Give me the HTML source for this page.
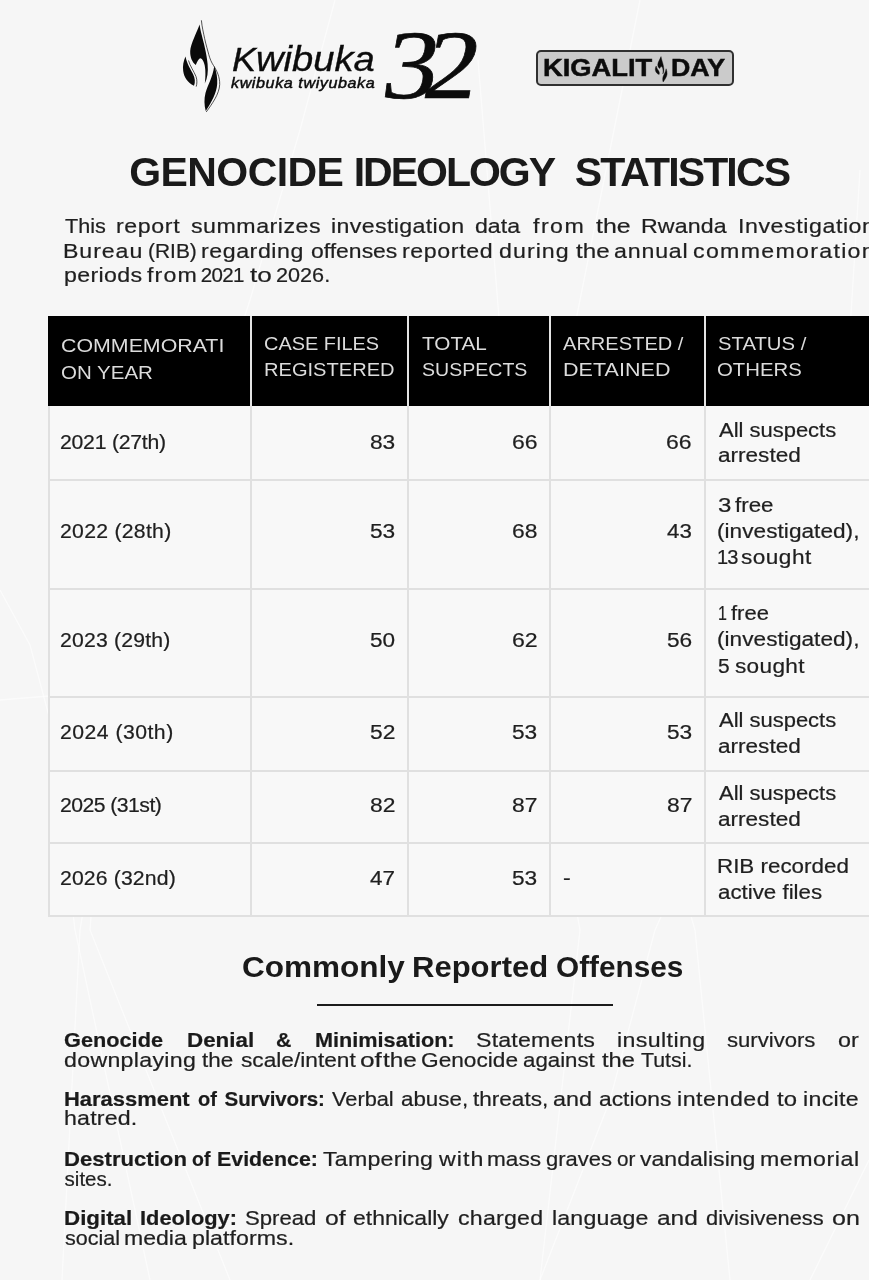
<!DOCTYPE html>
<html lang="en"><head><meta charset="utf-8"><title>Genocide Ideology Statistics</title>
<style>
html,body{margin:0;padding:0}
body{width:869px;height:1280px;overflow:hidden;position:relative;background:#f6f6f6;font-family:"Liberation Sans",sans-serif;color:#1f1f1f}
p .t,td .t{-webkit-text-stroke:0.22px #1f1f1f}
.t{position:absolute;white-space:nowrap;line-height:1;margin:0;padding:0;display:block;transform-origin:0 0}
h1,h2,p,header,section{margin:0;padding:0;font-weight:normal}
svg{position:absolute;left:0;top:0;overflow:visible}
.badge{position:absolute;left:535.7px;top:49.9px;width:198.7px;height:35.9px;box-sizing:border-box;border:2px solid #303030;border-radius:5px;background:#cbcbcb}
table{position:absolute;left:48px;top:316px;width:832px;border-spacing:0;border-collapse:separate;table-layout:fixed}
td,th{box-sizing:border-box;padding:0;border-right:2px solid #e0e0e0;border-bottom:2px solid #e0e0e0;font-weight:normal}
td:first-child{border-left:2px solid #e0e0e0}
th{background:#000;color:#dcdcdc;height:90px;border-bottom:0;border-right:2px solid #e4e4e4}
th:first-child{border-left:2px solid #000}
th:last-child,td:last-child{border-right:0}
tbody td{background:#f8f8f8}
hr{position:absolute;left:316.6px;top:1004.3px;width:296px;height:2px;border:0;margin:0;background:#1c1c1c}
b{font-weight:bold}
</style></head><body>
<svg width="869" height="1280" viewBox="0 0 869 1280" aria-hidden="true"><g fill="none" stroke="#ffffff" stroke-opacity="0.6" stroke-width="1.3"><path d="M335 0 L300 130 L250 300 L185 500 L115 720 L80 930 L62 1280"/><path d="M478 60 L500 330 L482 480 L542 720 L580 930 L540 1280"/><path d="M640 0 L560 400 L570 480 L635 720 L695 930 L730 1280"/><path d="M860 170 L850 330 L807 480 L750 720 L655 930 L610 1100 L540 1280"/><path d="M0 590 L30 645 L50 720 L75 930 L150 1280"/><path d="M0 700 L122 690 L100 800 L90 930 L230 1280"/><path d="M869 1160 L810 1280"/></g></svg>
<header>
<svg width="869" height="130" viewBox="0 0 869 130" aria-hidden="true">
<g fill="#0a0a0a">
<path d="M199.6 24.5C197 32 190.5 44 190.2 51C190 57 192 62 195.8 65C197 62 198.5 59 200 58.3C203 58.5 205 64 205.3 70C205.6 76 205.2 80 204.8 83.5C207.5 78 208.3 72 207.6 64C206.8 54 203.5 42 201.5 34C200.5 30 200 27 199.6 24.5Z"/>
<path d="M185.5 56.5C183.5 61 182.5 66 183.2 71C184 77 187.5 82.5 194 85.8C195.5 82 195 78 193 74C190.8 69.5 187 64 185.5 56.5Z"/>
<path d="M214.3 66C216.5 72 217.6 78 217.2 84C216.6 93 211 103 205.7 111C204.2 105 204 99 205.5 93C207.5 85.5 212.5 78 214.3 66Z"/>
</g>
<g fill="none" stroke="#0a0a0a" stroke-width="0.7">
<path d="M201.4 20.3C202 27 203.5 33 204.6 38.4C206 45 207.6 50 208.8 54.7C210 59 211.5 62.5 213.5 65.5C217 71 219.9 77 219.7 84.5C219.3 94 212 104 206.2 112"/>
<path d="M188.5 60.5C190 66 194 71.5 196 76.5C197.3 80 197 84 196.2 86.6"/>
</g></svg>
<span class="t" style="left:231.80px;top:41.55px;font-size:35.5px;transform:scaleX(1.0750);font-style:italic;color:#0c0c0c;-webkit-text-stroke:0.35px #0c0c0c"><span style="font-size:0.945em">K</span>wibuka</span>
<span class="t" style="left:231.26px;top:76.30px;font-size:14.3px;letter-spacing:0.500px;transform:scaleX(1.1300);font-style:italic;color:#0c0c0c;-webkit-text-stroke:0.45px #0c0c0c">kwibuka twiyubaka</span>
<span class="t" style="left:378.60px;top:15.80px;font-size:98px;font-family:'Liberation Serif', serif;color:#0c0c0c;transform:scaleX(1.11) skewX(-9deg);transform-origin:0 85%;-webkit-text-stroke:0.7px #0c0c0c">3</span><span class="t" style="left:420.30px;top:15.80px;font-size:98px;font-family:'Liberation Serif', serif;color:#0c0c0c;transform:scaleX(1.11) skewX(-9deg);transform-origin:0 85%;-webkit-text-stroke:0.7px #0c0c0c">2</span>
<div class="badge"></div><span class="t" style="left:543.10px;top:55.79px;font-size:24.7px;transform:scaleX(1.1068);font-weight:bold;color:#0c0c0c;-webkit-text-stroke:0.5px #0c0c0c">KIGALIT</span><span class="t" style="left:670.64px;top:55.79px;font-size:24.7px;transform:scaleX(1.0834);font-weight:bold;color:#0c0c0c;-webkit-text-stroke:0.5px #0c0c0c">DAY</span>
<svg width="869" height="130" viewBox="0 0 869 130" aria-hidden="true"><g fill="#0c0c0c" stroke="#0c0c0c" stroke-width="1.2" transform="translate(655.3 55.3) scale(0.345 0.293) translate(-183 -20)">
<path d="M199.6 24.5C197 32 190.5 44 190.2 51C190 57 192 62 195.8 65C197 62 198.5 59 200 58.3C203 58.5 205 64 205.3 70C205.6 76 205.2 80 204.8 83.5C207.5 78 208.3 72 207.6 64C206.8 54 203.5 42 201.5 34C200.5 30 200 27 199.6 24.5Z"/>
<path d="M185.5 56.5C183.5 61 182.5 66 183.2 71C184 77 187.5 82.5 194 85.8C195.5 82 195 78 193 74C190.8 69.5 187 64 185.5 56.5Z"/>
<path d="M214.3 66C216.5 72 217.6 78 217.2 84C216.6 93 211 103 205.7 111C204.2 105 204 99 205.5 93C207.5 85.5 212.5 78 214.3 66Z"/>
</g></svg>
</header>
<h1><span class="t" style="left:129.32px;top:151.59px;font-size:41px;letter-spacing:-0.604px;font-weight:bold;color:#1a1a1a">GENOCIDE</span><span class="t" style="left:353.74px;top:151.59px;font-size:41px;letter-spacing:-2.015px;font-weight:bold;color:#1a1a1a">IDEOLOGY</span><span class="t" style="left:574.66px;top:151.59px;font-size:41px;letter-spacing:-1.863px;font-weight:bold;color:#1a1a1a">STATISTICS</span></h1>
<p><span class="t" style="left:64.70px;top:216.15px;font-size:20.5px;transform:scaleX(1.0549)">This</span> <span class="t" style="left:116.09px;top:216.15px;font-size:20.5px;letter-spacing:0.545px;transform:scaleX(1.1300)">report</span> <span class="t" style="left:191.13px;top:216.15px;font-size:20.5px;letter-spacing:0.464px;transform:scaleX(1.1300)">summarizes</span> <span class="t" style="left:330.79px;top:216.15px;font-size:20.5px;letter-spacing:0.323px;transform:scaleX(1.1300)">investigation</span> <span class="t" style="left:475.45px;top:216.15px;font-size:20.5px;transform:scaleX(1.1287)">data</span> <span class="t" style="left:533.02px;top:216.15px;font-size:20.5px;letter-spacing:1.284px;transform:scaleX(1.1300)">from</span> <span class="t" style="left:595.50px;top:216.15px;font-size:20.5px;transform:scaleX(1.2140)">the</span> <span class="t" style="left:641.06px;top:216.15px;font-size:20.5px;letter-spacing:0.094px;transform:scaleX(1.1300)">Rwanda</span> <span class="t" style="left:737.98px;top:216.15px;font-size:20.5px;letter-spacing:0.508px;transform:scaleX(1.1300)">Investigation</span>
<span class="t" style="left:63.26px;top:240.75px;font-size:20.5px;letter-spacing:0.811px;transform:scaleX(1.1300)">Bureau</span> <span class="t" style="left:147.92px;top:240.75px;font-size:20.5px;transform:scaleX(1.0204)">(RIB)</span> <span class="t" style="left:200.89px;top:240.75px;font-size:20.5px;letter-spacing:0.496px;transform:scaleX(1.1300)">regarding</span> <span class="t" style="left:311.06px;top:240.75px;font-size:20.5px;transform:scaleX(1.1195)">offenses</span> <span class="t" style="left:402.39px;top:240.75px;font-size:20.5px;letter-spacing:0.540px;transform:scaleX(1.1300)">reported</span> <span class="t" style="left:498.75px;top:240.75px;font-size:20.5px;letter-spacing:0.937px;transform:scaleX(1.1300)">during</span> <span class="t" style="left:575.51px;top:240.75px;font-size:20.5px;transform:scaleX(1.1775)">the</span> <span class="t" style="left:614.25px;top:240.75px;font-size:20.5px;letter-spacing:0.736px;transform:scaleX(1.1300)">annual</span> <span class="t" style="left:693.25px;top:240.75px;font-size:20.5px;letter-spacing:1.152px;transform:scaleX(1.1300)">commemoration</span>
<span class="t" style="left:63.69px;top:265.25px;font-size:20.5px;letter-spacing:0.316px;transform:scaleX(1.1300)">periods</span> <span class="t" style="left:147.12px;top:265.25px;font-size:20.5px;letter-spacing:1.048px;transform:scaleX(1.1300)">from</span> <span class="t" style="left:200.80px;top:265.25px;font-size:20.5px;letter-spacing:-0.634px">2021</span> <span class="t" style="left:249.58px;top:265.25px;font-size:20.5px;transform:scaleX(1.2756)">to</span> <span class="t" style="left:276.14px;top:265.25px;font-size:20.5px;transform:scaleX(1.0561)">2026.</span></p>
<table><colgroup><col style="width:204px"><col style="width:157px"><col style="width:142px"><col style="width:155px"><col style="width:174px"></colgroup>
<thead><tr><th><span class="t" style="left:13.32px;top:20.22px;font-size:19px;transform:scaleX(1.1242);color:#dcdcdc">COMMEMORATI</span><span class="t" style="left:13.36px;top:46.62px;font-size:19px;transform:scaleX(1.0788);color:#dcdcdc">ON YEAR</span></th><th><span class="t" style="left:215.88px;top:18.02px;font-size:19px;transform:scaleX(1.0486);color:#dcdcdc">CASE FILES</span><span class="t" style="left:215.71px;top:44.32px;font-size:19px;transform:scaleX(1.0572);color:#dcdcdc">REGISTERED</span></th><th><span class="t" style="left:373.89px;top:18.02px;font-size:19px;transform:scaleX(1.0899);color:#dcdcdc">TOTAL</span><span class="t" style="left:373.53px;top:44.32px;font-size:19px;transform:scaleX(1.0291);color:#dcdcdc">SUSPECTS</span></th><th><span class="t" style="left:515.30px;top:18.02px;font-size:19px;transform:scaleX(1.0560);color:#dcdcdc">ARRESTED /</span><span class="t" style="left:515.10px;top:44.32px;font-size:19px;letter-spacing:0.062px;transform:scaleX(1.1300);color:#dcdcdc">DETAINED</span></th><th><span class="t" style="left:669.60px;top:18.02px;font-size:19px;transform:scaleX(1.0678);color:#dcdcdc">STATUS /</span><span class="t" style="left:669.46px;top:44.32px;font-size:19px;transform:scaleX(1.0710);color:#dcdcdc">OTHERS</span></th></tr></thead>
<tbody>
<tr style="height:75px"><td><span class="t" style="left:12.44px;top:115.57px;font-size:20px;letter-spacing:-0.221px;transform:scaleX(1.0600)">2021 (27th)</span></td><td><span class="t" style="left:322.05px;top:115.57px;font-size:20px;transform:scaleX(1.1347)">83</span></td><td><span class="t" style="left:464.05px;top:115.57px;font-size:20px;transform:scaleX(1.1486)">66</span></td><td><span class="t" style="left:618.45px;top:115.57px;font-size:20px;transform:scaleX(1.1486)">66</span></td><td><span class="t" style="left:670.60px;top:103.67px;font-size:20px;transform:scaleX(1.0982)">All suspects</span> <span class="t" style="left:669.75px;top:129.47px;font-size:20px;transform:scaleX(1.1279)">arrested</span></td></tr>
<tr style="height:109px"><td><span class="t" style="left:12.44px;top:205.37px;font-size:20px;letter-spacing:0.260px;transform:scaleX(1.0600)">2022 (28th)</span></td><td><span class="t" style="left:322.05px;top:205.37px;font-size:20px;transform:scaleX(1.1347)">53</span></td><td><span class="t" style="left:464.06px;top:205.37px;font-size:20px;transform:scaleX(1.1416)">68</span></td><td><span class="t" style="left:619.18px;top:205.37px;font-size:20px;transform:scaleX(1.1144)">43</span></td><td><span class="t" style="left:669.70px;top:178.57px;font-size:20px;transform:scaleX(1.2000)">3</span> <span class="t" style="left:686.82px;top:178.57px;font-size:20px;transform:scaleX(1.1158)">free</span> <span class="t" style="left:669.33px;top:204.97px;font-size:20px;letter-spacing:0.033px;transform:scaleX(1.1300)">(investigated),</span> <span class="t" style="left:669.10px;top:231.27px;font-size:20px;letter-spacing:-1.073px">13</span> <span class="t" style="left:692.83px;top:231.27px;font-size:20px;letter-spacing:0.420px;transform:scaleX(1.1300)">sought</span></td></tr>
<tr style="height:108px"><td><span class="t" style="left:12.44px;top:313.77px;font-size:20px;letter-spacing:0.185px;transform:scaleX(1.0600)">2023 (29th)</span></td><td><span class="t" style="left:322.05px;top:313.77px;font-size:20px;transform:scaleX(1.1278)">50</span></td><td><span class="t" style="left:464.04px;top:313.77px;font-size:20px;transform:scaleX(1.1557)">62</span></td><td><span class="t" style="left:618.75px;top:313.77px;font-size:20px;transform:scaleX(1.1347)">56</span></td><td><span class="t" style="left:669.80px;top:287.07px;font-size:20px;transform:scaleX(0.8000)">1</span> <span class="t" style="left:683.02px;top:287.07px;font-size:20px;transform:scaleX(1.1008)">free</span> <span class="t" style="left:669.33px;top:313.47px;font-size:20px;letter-spacing:0.033px;transform:scaleX(1.1300)">(investigated),</span> <span class="t" style="left:669.81px;top:339.87px;font-size:20px;transform:scaleX(1.0494)">5</span> <span class="t" style="left:686.53px;top:339.87px;font-size:20px;letter-spacing:0.279px;transform:scaleX(1.1300)">sought</span></td></tr>
<tr style="height:74px"><td><span class="t" style="left:12.44px;top:406.07px;font-size:20px;letter-spacing:0.449px;transform:scaleX(1.0600)">2024 (30th)</span></td><td><span class="t" style="left:322.04px;top:406.07px;font-size:20px;transform:scaleX(1.1416)">52</span></td><td><span class="t" style="left:464.35px;top:406.07px;font-size:20px;transform:scaleX(1.1347)">53</span></td><td><span class="t" style="left:618.75px;top:406.07px;font-size:20px;transform:scaleX(1.1347)">53</span></td><td><span class="t" style="left:670.60px;top:393.87px;font-size:20px;transform:scaleX(1.0982)">All suspects</span> <span class="t" style="left:669.75px;top:419.87px;font-size:20px;transform:scaleX(1.1279)">arrested</span></td></tr>
<tr style="height:72px"><td><span class="t" style="left:12.44px;top:479.07px;font-size:20px;letter-spacing:-0.514px;transform:scaleX(1.0600)">2025 (31st)</span></td><td><span class="t" style="left:322.04px;top:479.07px;font-size:20px;transform:scaleX(1.1416)">82</span></td><td><span class="t" style="left:464.34px;top:479.07px;font-size:20px;transform:scaleX(1.1416)">87</span></td><td><span class="t" style="left:618.74px;top:479.07px;font-size:20px;transform:scaleX(1.1416)">87</span></td><td><span class="t" style="left:670.60px;top:467.07px;font-size:20px;transform:scaleX(1.0982)">All suspects</span> <span class="t" style="left:669.75px;top:492.87px;font-size:20px;transform:scaleX(1.1279)">arrested</span></td></tr>
<tr style="height:73px"><td><span class="t" style="left:12.44px;top:552.07px;font-size:20px;letter-spacing:0.128px;transform:scaleX(1.0600)">2026 (32nd)</span></td><td><span class="t" style="left:322.48px;top:552.07px;font-size:20px;transform:scaleX(1.1211)">47</span></td><td><span class="t" style="left:464.35px;top:552.07px;font-size:20px;transform:scaleX(1.1347)">53</span></td><td><span class="t" style="left:514.59px;top:552.07px;font-size:20px;transform:scaleX(1.1600)">-</span></td><td><span class="t" style="left:669.28px;top:539.77px;font-size:20px;transform:scaleX(1.1187)">RIB recorded</span> <span class="t" style="left:669.76px;top:565.77px;font-size:20px;transform:scaleX(1.1153)">active files</span></td></tr>
</tbody></table>
<h2><span class="t" style="left:241.98px;top:953.25px;font-size:29px;transform:scaleX(1.0869);font-weight:bold;color:#1a1a1a">Commonly</span><span class="t" style="left:412.29px;top:953.25px;font-size:29px;transform:scaleX(1.0698);font-weight:bold;color:#1a1a1a">Reported</span><span class="t" style="left:555.54px;top:953.25px;font-size:29px;transform:scaleX(1.0267);font-weight:bold;color:#1a1a1a">Offenses</span></h2>
<hr>
<section>
<p><b><span class="t" style="left:64.31px;top:1029.75px;font-size:20.5px;transform:scaleX(1.0597);font-weight:bold;color:#1a1a1a">Genocide</span> <span class="t" style="left:187.04px;top:1029.75px;font-size:20.5px;transform:scaleX(1.0914);font-weight:bold;color:#1a1a1a">Denial</span> <span class="t" style="left:276.49px;top:1029.75px;font-size:20.5px;transform:scaleX(1.0393);font-weight:bold;color:#1a1a1a">&amp;</span> <span class="t" style="left:315.08px;top:1029.75px;font-size:20.5px;transform:scaleX(1.0566);font-weight:bold;color:#1a1a1a">Minimisation:</span></b> <span class="t" style="left:476.21px;top:1029.75px;font-size:20.5px;letter-spacing:0.170px;transform:scaleX(1.1300)">Statements</span> <span class="t" style="left:616.59px;top:1029.75px;font-size:20.5px;letter-spacing:0.350px;transform:scaleX(1.1300)">insulting</span> <span class="t" style="left:727.06px;top:1029.75px;font-size:20.5px;transform:scaleX(1.0781)">survivors</span> <span class="t" style="left:837.55px;top:1029.75px;font-size:20.5px;transform:scaleX(1.1370)">or</span>
<span class="t" style="left:64.25px;top:1049.95px;font-size:20.5px;letter-spacing:0.275px;transform:scaleX(1.1300)">downplaying</span> <span class="t" style="left:202.03px;top:1049.95px;font-size:20.5px;transform:scaleX(1.0934)">the</span> <span class="t" style="left:240.55px;top:1049.95px;font-size:20.5px;transform:scaleX(1.1064)">scale/intent</span> <span class="t" style="left:359.84px;top:1049.95px;font-size:20.5px;transform:scaleX(1.2804)">of</span> <span class="t" style="left:383.20px;top:1049.95px;font-size:20.5px;transform:scaleX(1.1884)">the</span> <span class="t" style="left:421.19px;top:1049.95px;font-size:20.5px;transform:scaleX(1.1054)">Genocide</span> <span class="t" style="left:522.69px;top:1049.95px;font-size:20.5px;transform:scaleX(1.0860)">against</span> <span class="t" style="left:601.71px;top:1049.95px;font-size:20.5px;transform:scaleX(1.1555)">the</span> <span class="t" style="left:640.81px;top:1049.95px;font-size:20.5px;transform:scaleX(1.0411)">Tutsi.</span></p>
<p><b><span class="t" style="left:63.76px;top:1088.75px;font-size:20.5px;transform:scaleX(1.0706);font-weight:bold;color:#1a1a1a">Harassment</span> <span class="t" style="left:198.07px;top:1088.75px;font-size:20.5px;transform:scaleX(0.9760);font-weight:bold;color:#1a1a1a">of</span> <span class="t" style="left:224.60px;top:1088.75px;font-size:20.5px;letter-spacing:-0.116px;font-weight:bold;color:#1a1a1a">Survivors:</span></b> <span class="t" style="left:332.30px;top:1088.75px;font-size:20.5px;transform:scaleX(1.0612)">Verbal</span> <span class="t" style="left:401.48px;top:1088.75px;font-size:20.5px;transform:scaleX(1.0902)">abuse,</span> <span class="t" style="left:473.13px;top:1088.75px;font-size:20.5px;transform:scaleX(1.0996)">threats,</span> <span class="t" style="left:553.05px;top:1088.75px;font-size:20.5px;transform:scaleX(1.1374)">and</span> <span class="t" style="left:599.46px;top:1088.75px;font-size:20.5px;transform:scaleX(1.1136)">actions</span> <span class="t" style="left:677.29px;top:1088.75px;font-size:20.5px;letter-spacing:0.477px;transform:scaleX(1.1300)">intended</span> <span class="t" style="left:776.51px;top:1088.75px;font-size:20.5px;transform:scaleX(1.1636)">to</span> <span class="t" style="left:803.29px;top:1088.75px;font-size:20.5px;letter-spacing:0.275px;transform:scaleX(1.1300)">incite</span>
<span class="t" style="left:63.55px;top:1108.45px;font-size:20.5px;letter-spacing:0.161px;transform:scaleX(1.1300)">hatred.</span></p>
<p><b><span class="t" style="left:63.75px;top:1148.75px;font-size:20.5px;transform:scaleX(1.0789);font-weight:bold;color:#1a1a1a">Destruction</span> <span class="t" style="left:192.29px;top:1148.75px;font-size:20.5px;transform:scaleX(0.9492);font-weight:bold;color:#1a1a1a">of</span> <span class="t" style="left:217.00px;top:1148.75px;font-size:20.5px;transform:scaleX(1.0423);font-weight:bold;color:#1a1a1a">Evidence:</span></b> <span class="t" style="left:322.58px;top:1148.75px;font-size:20.5px;letter-spacing:0.200px;transform:scaleX(1.1300)">Tampering</span> <span class="t" style="left:439.04px;top:1148.75px;font-size:20.5px;letter-spacing:0.916px;transform:scaleX(1.1300)">with</span> <span class="t" style="left:486.82px;top:1148.75px;font-size:20.5px;transform:scaleX(1.1018)">mass</span> <span class="t" style="left:545.70px;top:1148.75px;font-size:20.5px;transform:scaleX(1.0722)">graves</span> <span class="t" style="left:616.54px;top:1148.75px;font-size:20.5px;transform:scaleX(1.0087)">or</span> <span class="t" style="left:640.10px;top:1148.75px;font-size:20.5px;transform:scaleX(1.1254)">vandalising</span> <span class="t" style="left:760.29px;top:1148.75px;font-size:20.5px;letter-spacing:0.485px;transform:scaleX(1.1300)">memorial</span>
<span class="t" style="left:64.60px;top:1168.75px;font-size:20.5px">sites.</span></p>
<p><b><span class="t" style="left:63.74px;top:1207.95px;font-size:20.5px;transform:scaleX(1.0893);font-weight:bold;color:#1a1a1a">Digital</span> <span class="t" style="left:140.47px;top:1207.95px;font-size:20.5px;transform:scaleX(1.0636);font-weight:bold;color:#1a1a1a">Ideology:</span></b> <span class="t" style="left:244.55px;top:1207.95px;font-size:20.5px;transform:scaleX(1.0805)">Spread</span> <span class="t" style="left:325.09px;top:1207.95px;font-size:20.5px;transform:scaleX(1.2072)">of</span> <span class="t" style="left:353.06px;top:1207.95px;font-size:20.5px;transform:scaleX(1.1214)">ethnically</span> <span class="t" style="left:457.75px;top:1207.95px;font-size:20.5px;letter-spacing:0.203px;transform:scaleX(1.1300)">charged</span> <span class="t" style="left:551.75px;top:1207.95px;font-size:20.5px;letter-spacing:0.144px;transform:scaleX(1.1300)">language</span> <span class="t" style="left:657.00px;top:1207.95px;font-size:20.5px;transform:scaleX(1.1934)">and</span> <span class="t" style="left:705.90px;top:1207.95px;font-size:20.5px;transform:scaleX(1.0647)">divisiveness</span> <span class="t" style="left:831.58px;top:1207.95px;font-size:20.5px;transform:scaleX(1.2226)">on</span>
<span class="t" style="left:64.57px;top:1227.75px;font-size:20.5px;transform:scaleX(1.0512)">social</span> <span class="t" style="left:123.69px;top:1227.75px;font-size:20.5px;transform:scaleX(1.1247)">media</span> <span class="t" style="left:192.29px;top:1227.75px;font-size:20.5px;letter-spacing:0.037px;transform:scaleX(1.1300)">platforms.</span></p>
</section>
</body></html>
